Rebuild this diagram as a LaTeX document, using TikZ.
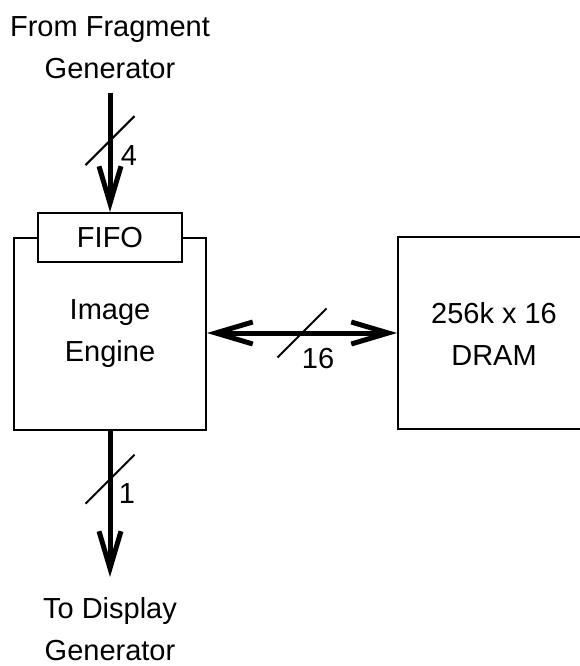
\documentclass[tikz,border=0pt]{standalone}
\usepackage{fontspec}
\setmainfont{Liberation Sans}
\usetikzlibrary{calc,arrows.meta,positioning}

\tikzset{
  blk/.style={draw, line width=2pt, inner sep=0pt},
  bus/.style={line width=5pt, -{Straight Barb[length=37pt,width=22pt,line width=5pt]}},
  dbus/.style={line width=5pt, {Straight Barb[length=37pt,width=22pt,line width=5pt]}-{Straight Barb[length=37pt,width=22pt,line width=5pt]}},
  slash/.style={line width=2pt},
  txt/.style={align=center, inner sep=0pt}
}

\begin{document}
\begin{tikzpicture}[x=1pt, y=-1pt, font=\fontsize{29}{42}\selectfont]
  \useasboundingbox (0,0) rectangle (579,666);

  \node [blk, minimum width=192pt, minimum height=192pt] (engine) at (110,334) {};
  \node [txt] (enginetxt) at (110,334) {Image\\Engine};
  \node [blk, fill=white, minimum width=144pt, minimum height=49pt] (fifo) at (110,237.5) {FIFO};
  \node [blk, minimum width=192pt, minimum height=192pt] (dram) at (494,333) {};
  \node [txt] (dramtxt) at (494,334) {256k x 16\\DRAM};

  \node [txt] (from) at (110,48) {From Fragment\\Generator};
  \node [txt] (to) at (110,629) {To Display\\Generator};

  \coordinate (in) at (110,93);
  \coordinate (out) at (110,577);

  \draw [bus] (in) -- coordinate[pos=0.4] (s1) (fifo.north);
  \draw [bus] (engine.south) -- coordinate[pos=0.33] (s2) (out);
  \draw [dbus] (engine.east |- dram.west) -- coordinate (s3) (dram.west);

  \draw [slash] ($(s1)+(-24.5,24.5)$) -- ($(s1)+(24.5,-24.5)$);
  \draw [slash] ($(s2)+(-24.5,24.5)$) -- ($(s2)+(24.5,-24.5)$);
  \draw [slash] ($(s3)+(-24.5,24.5)$) -- ($(s3)+(24.5,-24.5)$);

  \node [txt] (n1) at ($(s1)+(19,15)$) {4};
  \node [txt] (n2) at ($(s2)+(17,14)$) {1};
  \node [txt] (n3) at ($(s3)+(16,26)$) {16};
\end{tikzpicture}
\end{document}
